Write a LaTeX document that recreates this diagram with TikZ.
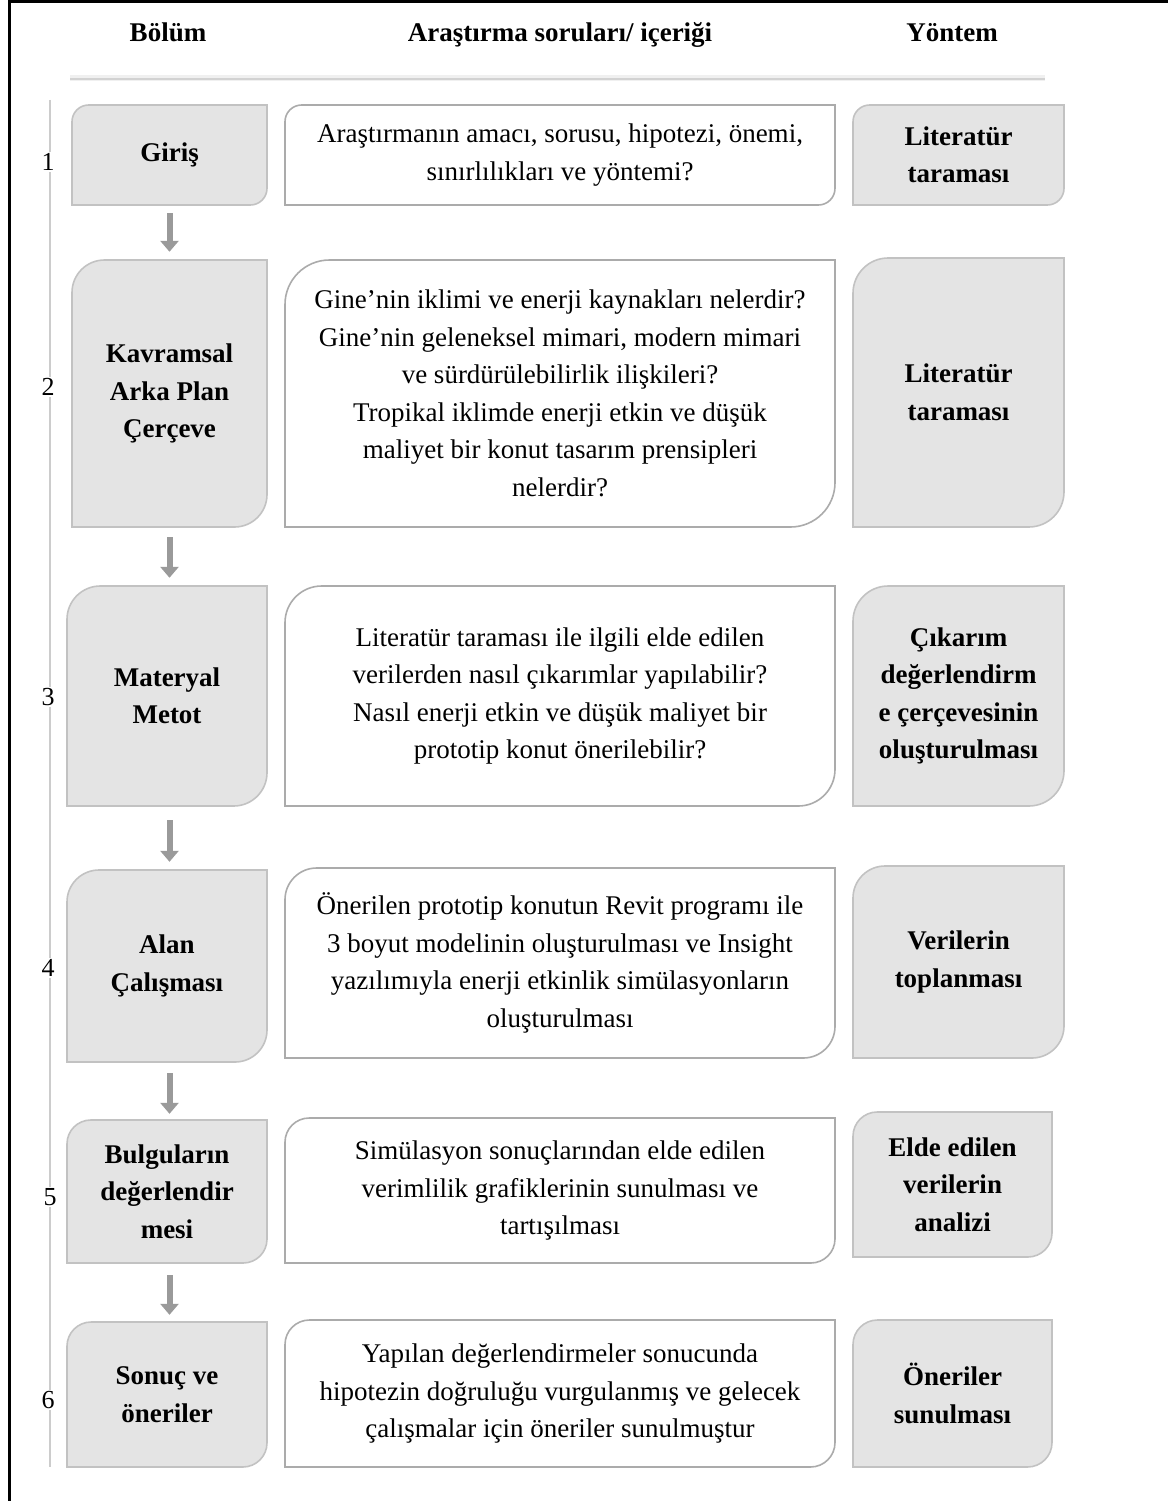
\documentclass[tikz,border=0pt]{standalone}
\usepackage{fontspec}
\setmainfont{Liberation Serif}
\usetikzlibrary{backgrounds,arrows.meta,calc}
\definecolor{gfill}{HTML}{E4E4E4}
\definecolor{gline}{HTML}{C2C2C2}
\definecolor{wline}{HTML}{ABABAB}
\definecolor{arrgray}{HTML}{9A9A9A}
\tikzset{
  gbox/.style={fill=gfill,draw=gline,line width=1.6pt},
  wbox/.style={fill=white,draw=wline,line width=1.6pt},
  gbox text/.style={font=\fontsize{27}{37.5}\selectfont\bfseries,align=center},
  wbox text/.style={font=\fontsize{27}{37.5}\selectfont,align=center},
  head/.style={font=\fontsize{27}{30}\selectfont\bfseries,anchor=base},
  num/.style={font=\fontsize{26}{30}\selectfont,fill=white,inner sep=1.5pt},
  arr/.style={draw=arrgray,line width=6pt,-{Triangle[width=18pt,length=11pt]}}
}
\newcommand\dbox[7]{%
  \pgfmathsetmacro\bw{#4-#2}\pgfmathsetmacro\bh{#5-#3}\pgfmathsetmacro\rr{min(\bw,\bh)/6}%
  \begin{scope}[on background layer]
  \draw[#6] (#2,-#5) -- (#2,{-#3-\rr}) arc[start angle=180,end angle=90,radius=\rr] -- (#4,-#3) -- (#4,{-#5+\rr}) arc[start angle=0,end angle=-90,radius=\rr] -- cycle;
  \end{scope}
  \node[#6 text,minimum width=\bw pt,minimum height=\bh pt,inner sep=0pt] (#1) at ({(#2+#4)/2},{-(#3+#5)/2}) {#7};
}
\begin{document}
\begin{tikzpicture}[x=1pt,y=1pt]
\useasboundingbox (0,0) rectangle (1168,-1501);
% outer frame
\draw[line width=3pt] (9,-1501) -- (9,-2) -- (1168,-2);
% headers
\node[head] (h1) at (168,-42) {Bölüm};
\node[head] (h2) at (560,-42) {Araştırma soruları/ içeriği};
\node[head] (h3) at (952,-42) {Yöntem};
\draw[line width=6pt,gray!12] (70,-78) -- (1045,-78);
\draw[line width=1.5pt,gray!35] (70,-79) -- (1045,-79);
% side line
\draw[line width=1.5pt,gray!40] (50,-100) -- (50,-1467);
\node[num] (n1) at (48,-162) {1};
\node[num] (n2) at (48,-387) {2};
\node[num] (n3) at (48,-697) {3};
\node[num] (n4) at (48,-968) {4};
\node[num] (n5) at (50,-1197) {5};
\node[num] (n6) at (48,-1400) {6};
% row 1
\dbox{L1}{72}{105}{267}{205}{gbox}{Giriş}
\dbox{M1}{285}{105}{835}{205}{wbox}{Araştırmanın amacı, sorusu, hipotezi, önemi,\\sınırlılıkları ve yöntemi?}
\dbox{R1}{853}{105}{1064}{205}{gbox}{Literatür\\taraması}
% row 2
\dbox{L2}{72}{260}{267}{527}{gbox}{Kavramsal\\Arka Plan\\Çerçeve}
\dbox{M2}{285}{260}{835}{527}{wbox}{Gine’nin iklimi ve enerji kaynakları nelerdir?\\Gine’nin geleneksel mimari, modern mimari\\ve sürdürülebilirlik ilişkileri?\\Tropikal iklimde enerji etkin ve düşük\\maliyet bir konut tasarım prensipleri\\nelerdir?}
\dbox{R2}{853}{258}{1064}{527}{gbox}{Literatür\\taraması}
% row 3
\dbox{L3}{67}{586}{267}{806}{gbox}{Materyal\\Metot}
\dbox{M3}{285}{586}{835}{806}{wbox}{Literatür taraması ile ilgili elde edilen\\verilerden nasıl çıkarımlar yapılabilir?\\Nasıl enerji etkin ve düşük maliyet bir\\prototip konut önerilebilir?}
\dbox{R3}{853}{586}{1064}{806}{gbox}{Çıkarım\\değerlendirm\\e çerçevesinin\\oluşturulması}
% row 4
\dbox{L4}{67}{870}{267}{1062}{gbox}{Alan\\Çalışması}
\dbox{M4}{285}{868}{835}{1058}{wbox}{Önerilen prototip konutun Revit programı ile\\3 boyut modelinin oluşturulması ve Insight\\yazılımıyla enerji etkinlik simülasyonların\\oluşturulması}
\dbox{R4}{853}{866}{1064}{1058}{gbox}{Verilerin\\toplanması}
% row 5
\dbox{L5}{67}{1120}{267}{1263}{gbox}{Bulguların\\değerlendir\\mesi}
\dbox{M5}{285}{1118}{835}{1263}{wbox}{Simülasyon sonuçlarından elde edilen\\verimlilik grafiklerinin sunulması ve\\tartışılması}
\dbox{R5}{853}{1112}{1052}{1257}{gbox}{Elde edilen\\verilerin\\analizi}
% row 6
\dbox{L6}{67}{1322}{267}{1467}{gbox}{Sonuç ve\\öneriler}
\dbox{M6}{285}{1320}{835}{1467}{wbox}{Yapılan değerlendirmeler sonucunda\\hipotezin doğruluğu vurgulanmış ve gelecek\\çalışmalar için öneriler sunulmuştur}
\dbox{R6}{853}{1320}{1052}{1467}{gbox}{Öneriler\\sunulması}
% arrows (all on one vertical through the centre of L1)
\draw[arr] ($(L1.south)+(0,-8)$) -- ($(L1.south |- L2.north)+(0,8)$);
\draw[arr] ($(L1.south |- L2.south)+(0,-10)$) -- ($(L1.south |- L3.north)+(0,8)$);
\draw[arr] ($(L1.south |- L3.south)+(0,-14)$) -- ($(L1.south |- L4.north)+(0,8)$);
\draw[arr] ($(L1.south |- L4.south)+(0,-11)$) -- ($(L1.south |- L5.north)+(0,6)$);
\draw[arr] ($(L1.south |- L5.south)+(0,-12)$) -- ($(L1.south |- L6.north)+(0,7)$);
\end{tikzpicture}
\end{document}
